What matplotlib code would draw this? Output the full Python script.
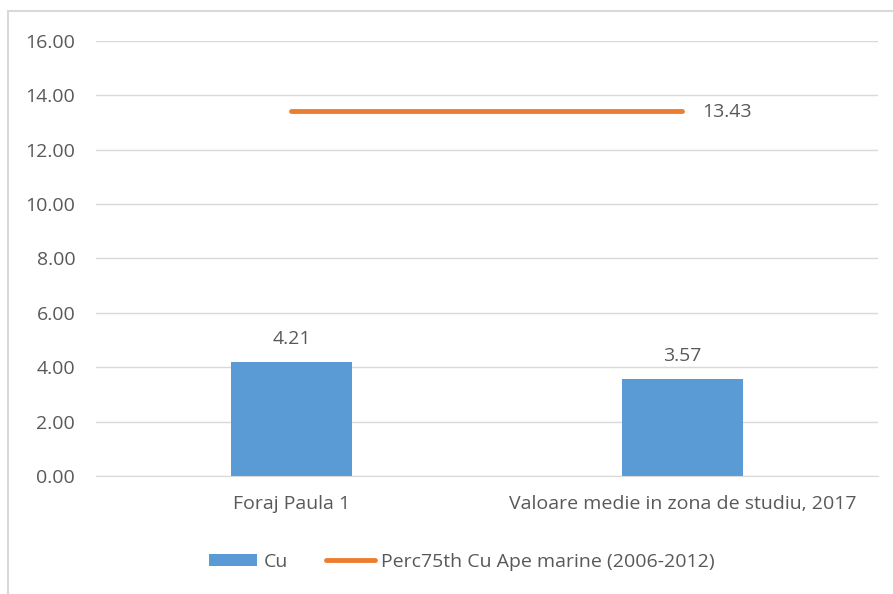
import matplotlib
matplotlib.use('Agg')
import matplotlib.pyplot as plt
from matplotlib.patches import Rectangle

categories = ['Foraj Paula 1', 'Valoare medie in zona de studiu, 2017']
cu_values = [4.21, 3.57]
perc75_values = [13.43, 13.43]
yticks = [0, 2, 4, 6, 8, 10, 12, 14, 16]

BLUE = '#5B9BD5'
ORANGE = '#ED7D31'
TEXT = '#595959'
GRID = '#D9D9D9'

plt.rcParams['font.family'] = ['Open Sans', 'DejaVu Sans']

fig = plt.figure(figsize=(8.93, 5.94), dpi=100)
ax = fig.add_axes([0.1075, 0.1987, 0.983 - 0.1075, 0.931 - 0.1987])

x = list(range(len(categories)))
bars = ax.bar(x, cu_values, width=0.31, color=BLUE, label='Cu', zorder=2)
line, = ax.plot(x, perc75_values, color=ORANGE, lw=3.5, solid_capstyle='round',
                label='Perc75th Cu Ape marine (2006-2012)', zorder=3)

# data labels
for xi, v in zip(x, cu_values):
    ax.text(xi, v + 0.5, f'{v:.2f}', ha='center', va='bottom',
            fontsize=14, color=TEXT)
ax.text(x[-1] + 0.05, perc75_values[-1] - 0.05, f'{perc75_values[-1]:.2f}',
        ha='left', va='center', fontsize=14, color=TEXT)

ax.set_xlim(-0.5, 1.5)
ax.set_ylim(0, 16)
ax.set_yticks(yticks)
ax.set_yticklabels([f'{t:.2f}' for t in yticks])
ax.set_xticks(x)
ax.set_xticklabels(categories)
ax.tick_params(axis='both', length=0, labelsize=14, labelcolor=TEXT)
ax.tick_params(axis='y', pad=15)
ax.tick_params(axis='x', pad=14)
ax.grid(axis='y', color=GRID, lw=1, zorder=0)
for s in ['top', 'right', 'left']:
    ax.spines[s].set_visible(False)
ax.spines['bottom'].set_color(GRID)

fig.legend([bars, line], [bars.get_label(), line.get_label()],
           loc='center', bbox_to_anchor=(0.517, 0.054), ncol=2, frameon=False,
           fontsize=14, labelcolor=TEXT, handlelength=2.5, handleheight=0.6,
           columnspacing=2.0, handletextpad=0.3)

# chart border
fig.patches.append(Rectangle((8 / 893, -0.1), 1.1, 1 - 11 / 594 + 0.1,
                             transform=fig.transFigure, fill=False,
                             edgecolor='#D9D9D9', lw=1.5))

fig.savefig('out.png', dpi=100)
